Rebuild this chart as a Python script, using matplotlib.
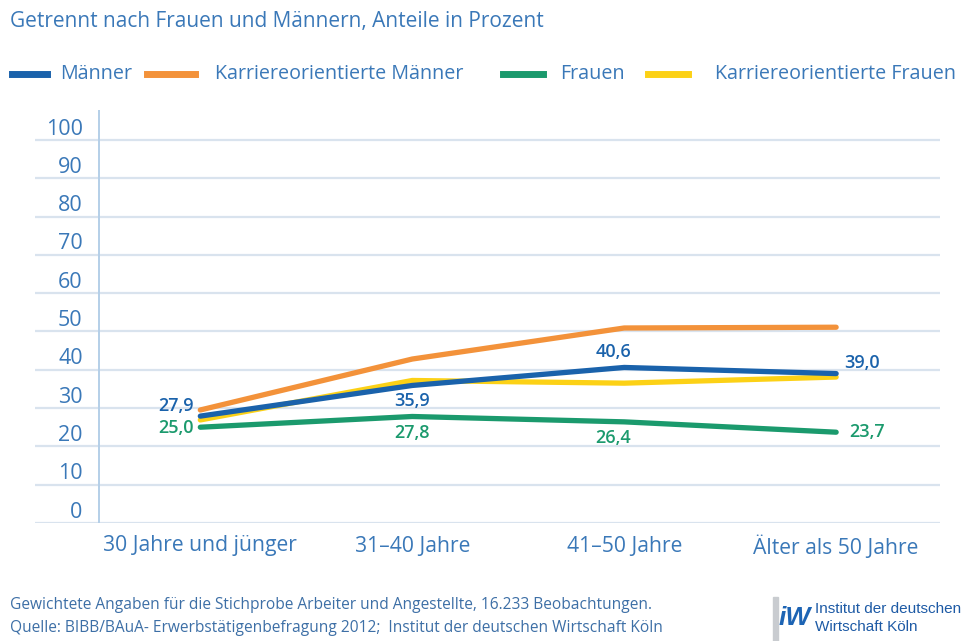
import matplotlib.pyplot as plt
from matplotlib.lines import Line2D
from matplotlib.patches import Rectangle

plt.rcParams['font.family'] = ['Open Sans', 'DejaVu Sans']

# Werte je Altersgruppe
kategorien = ['30 Jahre und jünger', '31\u201340 Jahre', '41\u201350 Jahre', 'Älter als 50 Jahre']
maenner = [27.9, 35.9, 40.6, 39.0]
karriere_maenner = [29.5, 42.8, 50.9, 51.1]
frauen = [25.0, 27.8, 26.4, 23.7]
karriere_frauen = [26.9, 37.2, 36.5, 38.1]
y_ticks = [0, 10, 20, 30, 40, 50, 60, 70, 80, 90, 100]

blau = '#1a62ab'
orange = '#f3923a'
gruen = '#1b9a6d'
gelb = '#fcd116'
textblau = '#3a78b8'
gitter = '#d9e3ee'

W, H = 966, 641
fig = plt.figure(figsize=(W / 100, H / 100), dpi=100)
ax = fig.add_axes([35 / W, (H - 523) / H, (940 - 35) / W, (523 - 110) / H])

ax.set_xlim(-0.78, 3.49)
ax.set_ylim(0, 107.8)
for s in ax.spines.values():
    s.set_visible(False)

# Gitterlinien und y-Achse
ax.hlines(y_ticks, -0.78, 3.49, color=gitter, lw=1.6, zorder=0)
ax.axvline(-0.48, color='#b4cfe8', lw=1.4, zorder=0)
for v in y_ticks:
    ax.text(-0.555, v + 1.4, str(v), ha='right', va='baseline',
            fontsize=15.5, color=textblau)
ax.set_yticks([])

x = range(len(kategorien))
ax.set_xticks(list(x))
ax.set_xticklabels(kategorien, fontsize=15.2, color=textblau)
ax.tick_params(axis='x', length=0, pad=9)

serien = [
    (maenner, blau, 'Männer', 4),
    (karriere_maenner, orange, 'Karriereorientierte Männer', 3),
    (frauen, gruen, 'Frauen', 3),
    (karriere_frauen, gelb, 'Karriereorientierte Frauen', 2),
]
for werte, farbe, name, z in serien:
    ax.plot(x, werte, color=farbe, lw=3.8, solid_capstyle='round',
            solid_joinstyle='round', zorder=z)

def wert(v):
    return f'{v:.1f}'.replace('.', ',')

lab = dict(fontsize=13, fontweight='semibold')
ax.text(-0.03, maenner[0] + 0.4, wert(maenner[0]), ha='right', va='bottom', color=blau, **lab)
ax.text(-0.03, frauen[0] - 0.3, wert(frauen[0]), ha='right', va='center', color=gruen, **lab)
ax.text(1, maenner[1] - 1.6, wert(maenner[1]), ha='center', va='top', color=blau, **lab)
ax.text(1, frauen[1] - 2.0, wert(frauen[1]), ha='center', va='top', color=gruen, **lab)
ax.text(1.95, maenner[2] + 1.6, wert(maenner[2]), ha='center', va='bottom', color=blau, **lab)
ax.text(1.95, frauen[2] - 1.8, wert(frauen[2]), ha='center', va='top', color=gruen, **lab)
ax.text(3.04, maenner[3] + 0.4, wert(maenner[3]), ha='left', va='bottom', color=blau, **lab)
ax.text(3.06, frauen[3], wert(frauen[3]), ha='left', va='center', color=gruen, **lab)

# Titel
fig.text(10 / W, 1 - 22 / H, 'Getrennt nach Frauen und Männern, Anteile in Prozent',
         fontsize=15, color=textblau, va='center', ha='left')

# Legende
leg_y = 1 - 74 / H
leg = [(12, 47, 60), (147, 195, 215), (503, 543, 560), (648, 688, 715)]
for (x0, x1, xt), (_, farbe, name, _) in zip(leg, serien):
    fig.add_artist(Line2D([x0 / W, x1 / W], [leg_y, leg_y], color=farbe, lw=5,
                          transform=fig.transFigure))
    fig.text(xt / W, leg_y, name, fontsize=14.2, color=textblau, va='center', ha='left')

# Fußnoten
fuss = '#3d6fa6'
fig.text(10 / W, 1 - 605 / H,
         'Gewichtete Angaben für die Stichprobe Arbeiter und Angestellte, 16.233 Beobachtungen.',
         fontsize=11.2, color=fuss, va='center')
fig.text(10 / W, 1 - 628 / H,
         'Quelle: BIBB/BAuA- Erwerbstätigenbefragung 2012;  Institut der deutschen Wirtschaft Köln',
         fontsize=11.2, color=fuss, va='center')

# Logo
fig.add_artist(Rectangle((773 / W, 1 - 641 / H), 5 / W, 44 / H, color='#c9ccd0',
                         transform=fig.transFigure))
fig.text(779 / W, 1 - 618 / H, 'iW', fontsize=19, fontweight='bold', fontstyle='italic',
         color='#1d64b4', va='center', ha='left', family=['Liberation Sans'])
fig.text(815 / W, 1 - 609 / H, 'Institut der deutschen', fontsize=11, color='#1d5aa5',
         va='center', ha='left', family=['Liberation Sans'])
fig.text(815 / W, 1 - 627 / H, 'Wirtschaft Köln', fontsize=11, color='#1d5aa5',
         va='center', ha='left', family=['Liberation Sans'])

fig.savefig('out.png', dpi=100)
